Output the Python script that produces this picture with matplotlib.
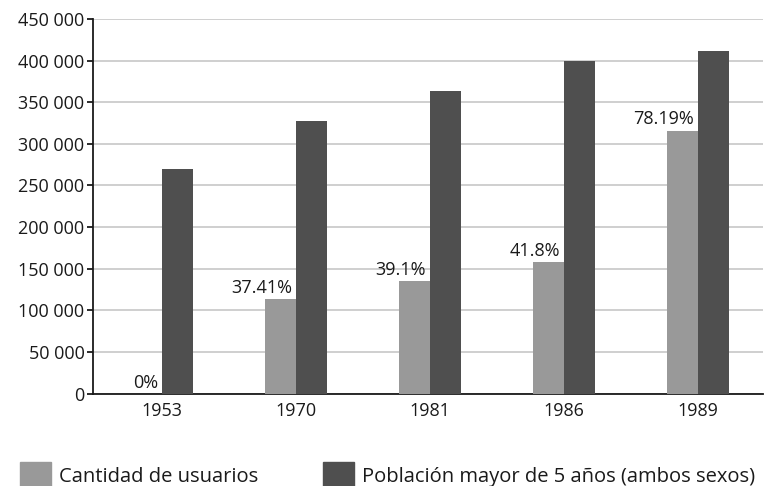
import matplotlib
matplotlib.use("Agg")
import matplotlib.pyplot as plt
import numpy as np
from matplotlib.ticker import FuncFormatter, MultipleLocator
from matplotlib.patches import Patch

years = ["1953", "1970", "1981", "1986", "1989"]
usuarios = [0, 114000, 135000, 158000, 316000]
poblacion = [270000, 328000, 364000, 399000, 412000]
porcentajes = ["0%", "37.41%", "39.1%", "41.8%", "78.19%"]
series_names = ["Cantidad de usuarios", "Población mayor de 5 años (ambos sexos)"]

plt.rcParams['font.family'] = ['Open Sans', 'DejaVu Sans']
light = "#999999"
dark = "#4f4f4f"
txt = "#1a1a1a"

fig = plt.figure(figsize=(7.68, 4.86), dpi=100)
ax = fig.add_axes([0.121, 0.190, 0.8725, 0.771])

x = np.arange(len(years))
w = 0.23
ax.bar(x - w / 2, usuarios, width=w, color=light, zorder=3)
ax.bar(x + w / 2, poblacion, width=w, color=dark, zorder=3)

for xi, v, p in zip(x, usuarios, porcentajes):
    ax.annotate(p, (xi, v), xytext=(-3, 1.5), textcoords="offset points",
                ha="right", va="bottom", fontsize=13, color=txt)

ax.set_xlim(-0.515, 4.485)
ax.set_ylim(0, 450000)
ax.yaxis.set_major_locator(MultipleLocator(50000))
ax.yaxis.set_major_formatter(FuncFormatter(lambda v, _: f"{int(v):,}".replace(",", " ")))
ax.set_xticks(x)
ax.set_xticklabels(years)
ax.tick_params(axis="x", length=0, pad=6, labelsize=13, colors=txt)
ax.tick_params(axis="y", length=4, width=1.3, pad=2, labelsize=13, colors=txt)
ax.grid(axis="y", color="#cccccc", linewidth=1.3, zorder=0)
ax.set_axisbelow(True)
for s in ["top", "right"]:
    ax.spines[s].set_visible(False)
ax.spines["left"].set_linewidth(1.3)
ax.spines["bottom"].set_linewidth(1.3)
ax.spines["left"].set_color(txt)
ax.spines["bottom"].set_color(txt)

handles = [Patch(color=light), Patch(color=dark)]
fig.legend(handles, series_names, loc="center left", bbox_to_anchor=(20 / 768, 0.022),
           ncol=2, frameon=False, fontsize=14.5, handlelength=1.55, handleheight=1.6,
           handletextpad=0.4, columnspacing=3.2, borderpad=0, borderaxespad=0,
           labelcolor=txt)

fig.savefig("out.png", dpi=100)
